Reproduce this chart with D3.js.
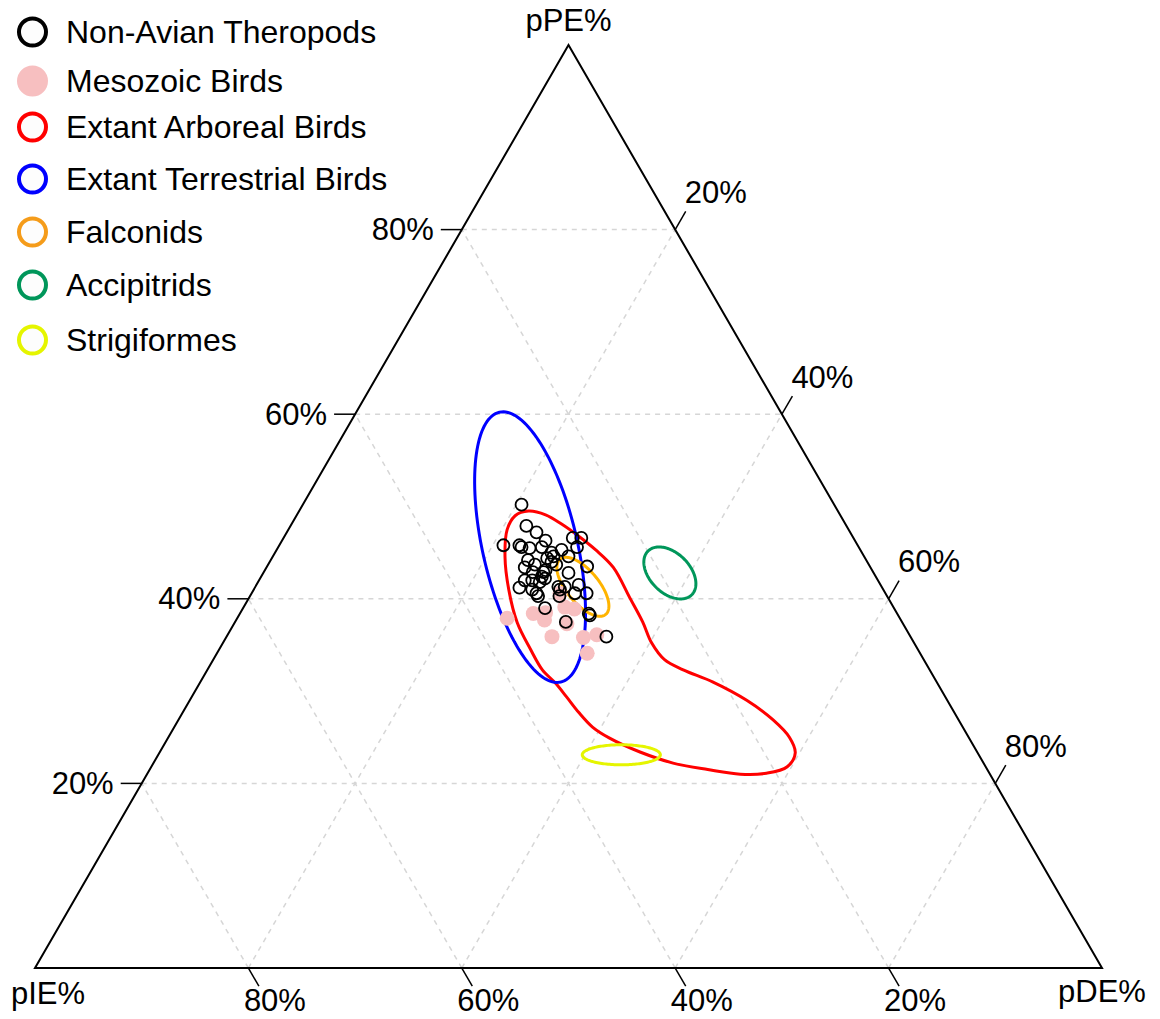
<!DOCTYPE html>
<meta charset="utf-8">
<style>
  body { margin: 0; padding: 0; background: #fff; }
  svg { display: block; }
  text { font-family: "Liberation Sans", Arial, sans-serif; font-size: 31px; fill: #000; }
  .legend text { font-size: 32px; }
</style>
<script src="https://d3js.org/d3.v7.min.js"></script>
<body>
<div id="chart"></div>
<script>
// ternary values, each point is [pIE, pPE, pDE] in percent
var theropods = [
  [29.3,50.2,20.5],[30.0,47.9,22.1],[29.4,47.2,23.4],[33.2,45.8,21.0],[31.7,45.8,22.5],
  [31.6,45.6,22.8],[30.9,45.5,23.6],[29.7,45.6,24.7],[29.0,46.3,24.7],[26.3,46.6,27.1],
  [25.5,46.6,27.9],[26.4,45.6,28.0],[29.1,45.0,25.9],[28.0,45.3,26.7],[27.7,44.6,27.7],
  [29.1,44.6,26.3],[31.7,44.2,24.1],[32.4,43.4,24.2],[31.3,43.7,25.0],[29.8,44.4,25.8],
  [29.6,44.0,26.4],[29.3,43.7,27.0],[30.6,43.1,26.3],[31.9,42.9,25.2],[30.9,42.9,26.2],
  [31.3,42.4,26.3],[31.1,42.2,26.7],[28.6,42.8,28.6],[26.5,43.5,30.0],[33.1,42.0,24.9],
  [32.4,42.0,25.6],[31.8,41.8,26.4],[34.0,41.2,24.8],[32.9,41.0,26.1],[32.7,40.6,26.7],
  [32.7,40.3,27.0],[30.3,41.3,28.4],[30.3,41.0,28.7],[29.7,41.3,29.0],[28.3,41.5,30.2],
  [29.1,40.6,30.3],[28.0,40.6,31.4],[30.7,40.3,29.0],[32.7,39.0,28.3],[28.9,38.4,32.7],
  [28.9,38.2,32.9],[31.5,37.5,31.0],[28.5,35.9,35.6]
];
var mesozoicBirds = [
  [36.8,37.9,25.3],[34.1,38.4,27.5],[33.4,37.7,28.9],[30.5,40.6,28.9],[30.8,39.1,30.1],
  [30.0,38.9,31.1],[31.5,37.3,31.2],[33.6,35.9,30.5],[30.7,35.8,33.5],[29.3,36.1,34.6],
  [31.2,34.1,34.7],[33.0,38.5,28.6]
];
// outline of the arboreal region, [pPE, pDE] (pIE is the rest)
var arborealOutline = [
  [49.5,21.5],[49.1,23.3],[48.1,25.3],[46.7,27.7],[45.3,29.9],[43.4,32.5],[40.1,35.7],
  [37.5,38.2],[35.2,40.2],[33.4,42.3],[32.3,44.6],[31.0,48.0],[29.0,52.2],[26.9,55.7],
  [25.0,58.2],[23.3,59.6],[21.8,59.6],[21.1,58.0],[21.0,55.6],[21.5,52.3],[22.2,48.7],
  [23.4,45.0],[24.9,41.4],[26.1,39.2],[27.7,37.1],[29.4,35.1],[30.9,33.3],[32.3,31.4],
  [34.5,29.2],[37.4,26.5],[41.0,23.9],[44.5,21.8],[47.5,20.5],[49.0,20.5]
];
// ellipses: centre [pIE, pPE, pDE], semi-axes and angle in the plane
var ellipseNames   = ["Extant Terrestrial Birds", "Falconids", "Accipitrids", "Strigiformes"];
var ellipseCentres = [[30.8,45.6,23.6],[28.0,41.3,30.7],[19.1,42.8,38.1],[33.5,23.1,43.4]];
var ellipseAxes    = [[12.98,4.44],[3.36,1.52],[2.9,1.87],[3.66,0.94]];
var ellipseAngles  = [102.8, 129.5, 135, 0];
var ellipseColors  = ["#0000ff", "#ffb400", "#00965a", "#e5f500"];

var legendNames  = ["Non-Avian Theropods","Mesozoic Birds","Extant Arboreal Birds","Extant Terrestrial Birds","Falconids","Accipitrids","Strigiformes"];
var legendColors = ["#000000","#f7bfc0","#ff0000","#0000ff","#f59c1a","#00965a","#e5f500"];
var gridValues = [20, 40, 60, 80];

var W = 1160, H = 1019;
var svg = d3.select("#chart").append("svg").attr("width", W).attr("height", H);

var SQ = Math.sqrt(3) / 2;
var x = d3.scaleLinear().domain([0, 100]).range([35, 1102]);
var y = d3.scaleLinear().domain([0, 100 * SQ]).range([968, 45]);

// pPE at the top, pIE bottom left, pDE bottom right
function proj(pe, de) { return [x(de + pe / 2), y(pe * SQ)]; }
function projT(d) { return proj(d[1], d[2]); }

// grid
var grid = svg.append("g").attr("stroke", "#d6d6d6").attr("stroke-width", 1.5)
  .attr("stroke-dasharray", "5,5").attr("fill", "none");
gridValues.forEach(function (k) {
  var segs = [
    [proj(k, 0), proj(k, 100 - k)],
    [proj(0, k), proj(100 - k, k)],
    [proj(0, 100 - k), proj(100 - k, 0)]
  ];
  segs.forEach(function (s) {
    grid.append("line").attr("x1", s[0][0]).attr("y1", s[0][1]).attr("x2", s[1][0]).attr("y2", s[1][1]);
  });
});

// triangle
var tri = [proj(100, 0), proj(0, 100), proj(0, 0)];
svg.append("path").attr("d", "M" + tri.join("L") + "Z")
  .attr("fill", "none").attr("stroke", "#000").attr("stroke-width", 2).attr("stroke-linejoin", "miter");

// ticks and labels
var TL = 21;
var axisG = svg.append("g");
gridValues.forEach(function (k) {
  // pPE, left edge
  var p = proj(k, 0);
  axisG.append("line").attr("x1", p[0]).attr("y1", p[1]).attr("x2", p[0] - TL).attr("y2", p[1]).attr("stroke", "#000").attr("stroke-width", 1.5);
  axisG.append("text").attr("x", p[0] - TL - 7).attr("y", p[1]).attr("text-anchor", "end")
    .attr("dominant-baseline", "central").text(k + "%");
  // pDE, right edge
  var r = proj(100 - k, k);
  var re = [r[0] + TL * 0.5, r[1] - TL * SQ];
  axisG.append("line").attr("x1", r[0]).attr("y1", r[1]).attr("x2", re[0]).attr("y2", re[1]).attr("stroke", "#000").attr("stroke-width", 1.5);
  axisG.append("text").attr("x", re[0] + 30).attr("y", re[1] - 19).attr("text-anchor", "middle")
    .attr("dominant-baseline", "central").text(k + "%");
  // pIE, bottom edge
  var b = proj(0, 100 - k);
  var be = [b[0] + TL * 0.5, b[1] + TL * SQ];
  axisG.append("line").attr("x1", b[0]).attr("y1", b[1]).attr("x2", be[0]).attr("y2", be[1]).attr("stroke", "#000").attr("stroke-width", 1.5);
  axisG.append("text").attr("x", be[0] + 16).attr("y", be[1] + 14).attr("text-anchor", "middle")
    .attr("dominant-baseline", "central").text(k + "%");
});

svg.append("text").attr("x", tri[0][0]).attr("y", 31).attr("text-anchor", "middle").text("pPE%");
svg.append("text").attr("x", tri[2][0] + 13).attr("y", 1004).attr("text-anchor", "middle").text("pIE%");
svg.append("text").attr("x", tri[1][0]).attr("y", 1002).attr("text-anchor", "middle").text("pDE%");

// arboreal region
var outline = d3.line().curve(d3.curveCatmullRomClosed.alpha(0.5));
svg.append("path")
  .attr("d", outline(arborealOutline.map(function (d) { return proj(d[0], d[1]); })))
  .attr("fill", "none").attr("stroke", "#ff0000").attr("stroke-width", 3);

// ellipses
ellipseCentres.forEach(function (c, i) {
  var cu = c[2] + c[1] / 2, cv = c[1] * SQ;
  var a = ellipseAxes[i][0], bb = ellipseAxes[i][1];
  var phi = ellipseAngles[i] * Math.PI / 180;
  var pts = d3.range(0, 144).map(function (j) {
    var t = j / 144 * 2 * Math.PI;
    var u = cu + a * Math.cos(t) * Math.cos(phi) - bb * Math.sin(t) * Math.sin(phi);
    var v = cv + a * Math.cos(t) * Math.sin(phi) + bb * Math.sin(t) * Math.cos(phi);
    return [x(u), y(v)];
  });
  svg.append("path").attr("class", "ellipse").attr("d", "M" + pts.join("L") + "Z")
    .attr("fill", "none").attr("stroke", ellipseColors[i]).attr("stroke-width", 3);
});

// points
svg.append("g").selectAll("circle").data(mesozoicBirds).join("circle")
  .attr("cx", function (d) { return projT(d)[0]; })
  .attr("cy", function (d) { return projT(d)[1]; })
  .attr("r", 7.5).attr("fill", "#f7bfc0");

svg.append("g").selectAll("circle").data(theropods).join("circle")
  .attr("cx", function (d) { return projT(d)[0]; })
  .attr("cy", function (d) { return projT(d)[1]; })
  .attr("r", 6).attr("fill", "none").attr("stroke", "#000").attr("stroke-width", 1.8);

// legend
var legendY = [32, 81, 127, 179, 232, 285, 340];
var leg = svg.append("g").attr("class", "legend");
legendNames.forEach(function (name, i) {
  var c = leg.append("circle").attr("cx", 32.5).attr("cy", legendY[i]).attr("r", 13.5);
  if (i === 1) c.attr("fill", legendColors[i]).attr("r", 15.5);
  else c.attr("fill", "#fdfdfd").attr("stroke", legendColors[i]).attr("stroke-width", 4);
  leg.append("text").attr("x", 66).attr("y", legendY[i]).attr("dominant-baseline", "central").text(name);
});
</script>
</body>
